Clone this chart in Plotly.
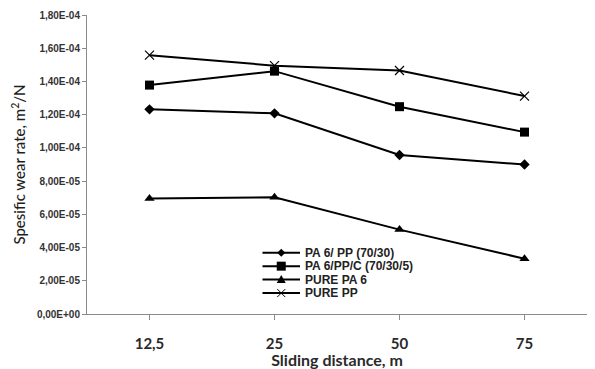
import plotly.graph_objects as go

# Sliding distance categories (m)
distances = ["12,5", "25", "50", "75"]

# Specific wear rate, m^2/N
pa6_pp = [1.232e-4, 1.208e-4, 0.957e-4, 0.900e-4]
pa6_pp_c = [1.378e-4, 1.462e-4, 1.248e-4, 1.095e-4]
pure_pa6 = [0.695e-4, 0.703e-4, 0.508e-4, 0.333e-4]
pure_pp = [1.558e-4, 1.495e-4, 1.466e-4, 1.312e-4]

y_ticks = [i * 2e-5 for i in range(10)]
y_tick_text = ["0,00E+00", "2,00E-05", "4,00E-05", "6,00E-05", "8,00E-05",
               "1,00E-04", "1,20E-04", "1,40E-04", "1,60E-04", "1,80E-04"]

# name, values, plotly symbol, marker size, marker outline, legend key path (pixels)
series = [
    ("PA 6/ PP (70/30)", pa6_pp, "diamond", 8, 0,
     "M -4,0 L 0,4 L 4,0 L 0,-4 Z", True),
    ("PA 6/PP/C (70/30/5)", pa6_pp_c, "square", 9, 0,
     "M -4.5,-4.5 L 4.5,-4.5 L 4.5,4.5 L -4.5,4.5 Z", True),
    ("PURE PA 6", pure_pa6, "triangle-up", 9, 0,
     "M -4.5,-3.5 L 4.5,-3.5 L 0,4.5 Z", True),
    ("PURE PP", pure_pp, "x-thin", 9, 1.2,
     "M -4,-4 L 4,4 M -4,4 L 4,-4", False),
]

fig = go.Figure()
for name, vals, sym, size, lw, _, _ in series:
    fig.add_trace(go.Scatter(
        x=distances, y=vals, name=name, mode="lines+markers",
        line=dict(color="black", width=2),
        marker=dict(symbol=sym, size=size, color="black",
                    line=dict(color="black", width=lw)),
        showlegend=False,
    ))

# Compact legend drawn with shapes and annotations (paper coordinates)
key_x0, key_x1, text_x = 0.351, 0.426, 0.432
row_y = [0.205, 0.160, 0.115, 0.070]
shapes, annotations = [], []
for (name, _, _, _, _, path, filled), ry in zip(series, row_y):
    shapes.append(dict(type="line", xref="paper", yref="paper",
                       x0=key_x0, x1=key_x1, y0=ry, y1=ry,
                       line=dict(color="black", width=2)))
    shapes.append(dict(type="path", xref="paper", yref="paper",
                       xsizemode="pixel", ysizemode="pixel",
                       xanchor=(key_x0 + key_x1) / 2, yanchor=ry,
                       path=path,
                       fillcolor="black" if filled else "rgba(0,0,0,0)",
                       line=dict(color="black", width=0 if filled else 1)))
    annotations.append(dict(xref="paper", yref="paper", x=text_x, y=ry,
                            xanchor="left", yanchor="middle", showarrow=False,
                            text="<b>" + name + "</b>",
                            font=dict(family="Arial, Liberation Sans", size=12,
                                      color="#222")))

fig.update_layout(
    width=595, height=369,
    margin=dict(l=87, r=8, t=15, b=55),
    paper_bgcolor="white", plot_bgcolor="white",
    showlegend=False,
    shapes=shapes, annotations=annotations,
    xaxis=dict(
        type="category", range=[-0.5, 3.5], automargin=False,
        showline=True, linecolor="#8a8a8a", linewidth=1,
        ticks="outside", ticklen=5, tickcolor="#8a8a8a",
        ticklabelstandoff=11,
        showgrid=False, zeroline=False,
        tickfont=dict(family="Lato", size=15, color="#2a2a2a", weight="bold"),
        title=dict(text="<b>Sliding distance, m</b>",
                   font=dict(family="Lato", size=16, color="#2a2a2a"),
                   standoff=2),
    ),
    yaxis=dict(
        range=[0, 1.8e-4], automargin=False,
        tickmode="array", tickvals=y_ticks, ticktext=y_tick_text,
        showline=True, linecolor="#8a8a8a", linewidth=1,
        ticks="outside", ticklen=4, tickcolor="#8a8a8a",
        showgrid=False, zeroline=False,
        tickfont=dict(family="Arial, Liberation Sans", size=10, color="#333", weight="bold"),
        title=dict(text="Spesific wear rate, m<sup>2</sup>/N",
                   font=dict(family="Lato", size=15, color="#1e1e1e", weight=500),
                   standoff=7),
    ),
)

fig.write_html("out.html")
